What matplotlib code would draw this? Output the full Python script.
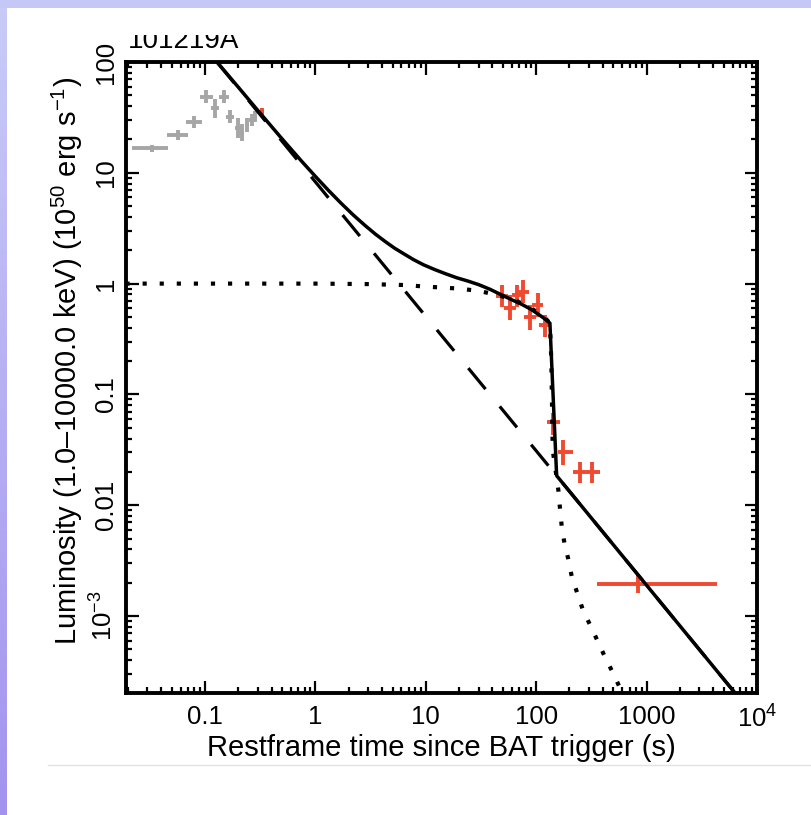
import numpy as np
import matplotlib.pyplot as plt
from matplotlib.patches import Rectangle
from matplotlib.lines import Line2D
from matplotlib.transforms import Bbox, TransformedBbox

plt.rcParams['font.family'] = ['Liberation Sans', 'DejaVu Sans']
plt.rcParams['mathtext.fontset'] = 'custom'
plt.rcParams['mathtext.rm'] = 'Liberation Sans'
plt.rcParams['mathtext.it'] = 'Liberation Sans:italic'
plt.rcParams['mathtext.bf'] = 'Liberation Sans:bold'

GRB = "101219A"

# BAT points (grey): restframe time (s) and luminosity (1e50 erg/s)
bat_t = [0.0329, 0.0566, 0.080, 0.102, 0.149, 0.123, 0.168, 0.199, 0.215, 0.239, 0.265, 0.284]
bat_t_lo = [0.0218, 0.0450, 0.0673, 0.090, 0.134, 0.112, 0.155, 0.185, 0.205, 0.228, 0.252, 0.272]
bat_t_hi = [0.0463, 0.0701, 0.0933, 0.118, 0.165, 0.134, 0.182, 0.212, 0.226, 0.251, 0.279, 0.297]
bat_l = [16.6, 21.9, 28.9, 48.7, 48.7, 38.2, 32.1, 25.4, 22.9, 27.0, 30.0, 32.1]
bat_l_lo = [15.4, 19.8, 25.6, 42.5, 42.5, 31.5, 28.0, 20.8, 19.2, 23.5, 26.5, 28.8]
bat_l_hi = [17.9, 24.2, 32.6, 55.8, 55.8, 46.3, 36.8, 31.0, 27.3, 31.0, 34.0, 35.8]

# XRT points (red)
xrt_t = [0.327, 48.7, 57.9, 67.5, 76.4, 87.9, 103, 120, 141, 176, 250, 318, 830]
xrt_t_lo = [0.31, 43, 51.5, 60, 68, 78, 91.5, 107, 125, 158, 215, 285, 353]
xrt_t_hi = [0.345, 55, 65, 76, 86, 99, 116, 135, 164, 215, 285, 375, 4315]
xrt_l = [35.6, 0.773, 0.603, 0.789, 0.845, 0.50, 0.641, 0.423, 0.0568, 0.0304, 0.020, 0.020, 0.00195]
xrt_l_lo = [33.0, 0.62, 0.469, 0.62, 0.67, 0.381, 0.50, 0.33, 0.043, 0.0231, 0.0158, 0.0158, 0.0016]
xrt_l_hi = [38.5, 0.97, 0.789, 0.97, 1.08, 0.641, 0.82, 0.52, 0.068, 0.0387, 0.0247, 0.0247, 0.00234]

# model: total (solid), power law (dashed), magnetar plateau (dotted)
tot_t = [0.128, 0.2, 0.3, 0.5, 0.75, 1, 1.3, 1.7, 2.2, 2.8, 3.5, 4.3, 5.2, 6.3, 7.7, 9.5, 12, 15,
         19, 24, 30, 38, 48, 60, 75, 90, 107, 120, 133, 153, 6324]
tot_l = [100, 59.2, 36.6, 20.15, 12.7, 9.26, 7.0, 5.33, 4.16, 3.36, 2.79, 2.39, 2.09, 1.86, 1.65,
         1.48, 1.34, 1.23, 1.13, 1.055, 0.98, 0.89, 0.795, 0.715, 0.645, 0.585, 0.52, 0.48, 0.44,
         0.01847, 2.02e-4]
pl_t = [0.128, 6324]
pl_l = [100, 2.02e-4]
mag_t = [0.019, 1, 3, 6.6, 9.8, 14.5, 20.3, 29.8, 42.4, 61.8, 80, 100, 120, 133, 137, 141, 158.6,
         164, 170, 180, 195, 210, 265, 314, 363, 420, 496, 574, 650]
mag_l = [1.0, 1.0, 0.99, 0.97, 0.94, 0.92, 0.90, 0.86, 0.80, 0.72, 0.64, 0.56, 0.49, 0.44, 0.2, 0.0315, 0.0137,
         0.00944, 0.00649, 0.00456, 0.00327, 0.00226, 0.00113, 7.96e-4, 5.83e-4, 4.26e-4, 3.06e-4, 2.24e-4, 1.75e-4]

xticks = [0.1, 1, 10, 100, 1000, 1e4]
xticklabels = ['0.1', '1', '10', '100', '1000', '10$^4$']
yticks = [1e-3, 0.01, 0.1, 1, 10, 100]
yticklabels = ['10$^{-3}$', '0.01', '0.1', '1', '10', '100']

W, H = 811, 815
fig = plt.figure(figsize=(W / 100, H / 100), dpi=100)
fig.patch.set_facecolor('white')

# slide frame: lavender strip on top, gradient strip on the left
fig.add_artist(Rectangle((0, 1 - 8 / H), 1, 8 / H, transform=fig.transFigure,
                         color='#c5c8f7', lw=0, zorder=0))
band = fig.add_axes([0, 0, 7 / W, 1 - 8 / H])
top_c = np.array([0xc8, 0xcb, 0xf8]) / 255
bot_c = np.array([0xa3, 0x93, 0xef]) / 255
f = np.linspace(0, 1, 200)[:, None]
band.imshow((top_c * (1 - f) + bot_c * f)[:, None, :], aspect='auto')
band.axis('off')
fig.add_artist(Line2D([48 / W, 1], [1 - 765 / H] * 2, transform=fig.transFigure,
                      color='#e2e2e2', lw=1))

ax = fig.add_axes([126 / W, 1 - 693 / H, 631 / W, 631 / H])
ax.set_xscale('log')
ax.set_yscale('log')
ax.set_xlim(0.0192, 1e4)
ax.set_ylim(2.02e-4, 100)

red = '#ef4a2f'
grey = '#a6a6a6'
ax.errorbar(bat_t, bat_l,
            xerr=[np.subtract(bat_t, bat_t_lo), np.subtract(bat_t_hi, bat_t)],
            yerr=[np.subtract(bat_l, bat_l_lo), np.subtract(bat_l_hi, bat_l)],
            fmt='none', ecolor=grey, elinewidth=2.8, capsize=0, zorder=2)
ax.errorbar(xrt_t, xrt_l,
            xerr=[np.subtract(xrt_t, xrt_t_lo), np.subtract(xrt_t_hi, xrt_t)],
            yerr=[np.subtract(xrt_l, xrt_l_lo), np.subtract(xrt_l_hi, xrt_l)],
            fmt='none', ecolor=red, elinewidth=2.8, capsize=0, zorder=2)

ax.plot(pl_t, pl_l, color='black', lw=2.3, ls=(0, (8.5, 7)), zorder=3)
ax.plot(mag_t, mag_l, color='black', lw=3.0, ls=(0, (1, 3.1)), zorder=3)
ax.plot(tot_t, tot_l, color='black', lw=2.5, zorder=4, solid_joinstyle='round')

ax.set_xticks(xticks, labels=xticklabels)
ax.set_yticks(yticks, labels=yticklabels)
for lab in ax.get_yticklabels():
    lab.set_rotation(90)
    lab.set_va('center')
ax.tick_params(which='both', direction='in', top=True, right=True, width=1.6, labelsize=18.5)
ax.tick_params(which='major', length=9)
ax.tick_params(which='minor', length=4.5)
ax.tick_params(axis='x', pad=9)
ax.tick_params(axis='y', pad=6)
for s in ax.spines.values():
    s.set_linewidth(2.8)

ax.set_xlabel('Restframe time since BAT trigger (s)', fontsize=21, labelpad=1)
fig.text(67 / W, 1 - 361 / H,
         'Luminosity (1.0\u201310000.0 keV) (10$^{50}$ erg s$^{-1}$)',
         rotation=90, ha='center', va='center', fontsize=21)

title = fig.text(128 / W, 1 - 48 / H, GRB, fontsize=20, ha='left', va='baseline')
title.set_clip_box(TransformedBbox(Bbox([[0, 0], [1, 1 - 35 / H]]), fig.transFigure))
title.set_clip_on(True)

fig.savefig('out.png', dpi=100)
